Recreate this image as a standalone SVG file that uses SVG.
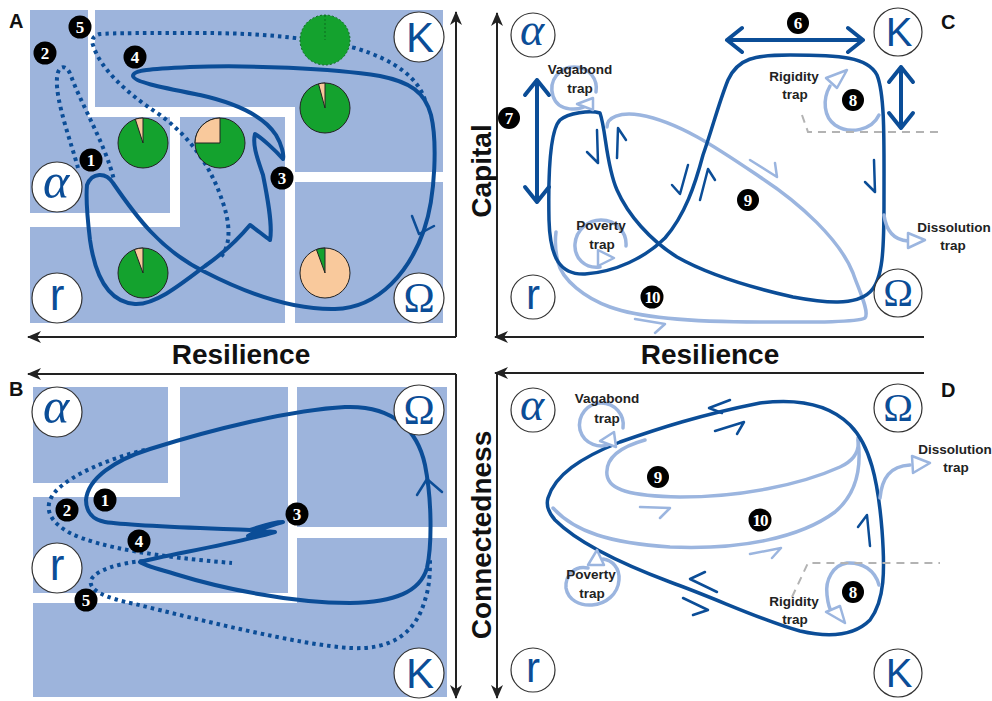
<svg xmlns="http://www.w3.org/2000/svg" width="992" height="701" viewBox="0 0 992 701">
<style>
.blk{fill:#9db4dc}
.dk{fill:none;stroke:#0b4d97;stroke-width:4;stroke-linecap:round;stroke-linejoin:round}
.dk2{fill:none;stroke:#0b4d97;stroke-width:3.5;stroke-linecap:round;stroke-linejoin:round}
.dot{fill:none;stroke:#0b4d97;stroke-width:4;stroke-dasharray:3.5 4}
.lt{fill:none;stroke:#9bb5df;stroke-width:3.5;stroke-linecap:round;stroke-linejoin:round}
.chv{fill:none;stroke:#0b4d97;stroke-width:2.5;stroke-linecap:round;stroke-linejoin:round}
.chl{fill:none;stroke:#9bb5df;stroke-width:2.5;stroke-linecap:round;stroke-linejoin:round}
.tri{fill:#fff;stroke:#9bb5df;stroke-width:2.5;stroke-linejoin:round}
.ax{fill:none;stroke:#222;stroke-width:2}
.dash{fill:none;stroke:#b3b3b3;stroke-width:2;stroke-dasharray:8 6}
.nd circle{fill:#fff;stroke:#333;stroke-width:1.2}
.gs{font-family:'Liberation Serif',serif;fill:#0b4d97;text-anchor:middle}
.ga{font-family:'Liberation Serif',serif;font-style:italic;fill:#0b4d97;text-anchor:middle}
.ss{font-family:'Liberation Sans',sans-serif;fill:#0b4d97;text-anchor:middle}
.bd circle{fill:#000}
.bd text{font-family:'Liberation Serif',serif;font-weight:bold;font-size:17px;fill:#fff;text-anchor:middle}
.trap{font-family:'Liberation Sans',sans-serif;font-weight:bold;font-size:13.5px;fill:#222;text-anchor:middle}
.axl{font-family:'Liberation Sans',sans-serif;font-weight:bold;font-size:28px;fill:#111;text-anchor:middle}
.pl{font-family:'Liberation Sans',sans-serif;font-weight:bold;font-size:20px;fill:#111}
.pie{stroke:#222;stroke-width:1}
</style>
<defs>
<marker id="ah" markerUnits="userSpaceOnUse" markerWidth="14" markerHeight="12" refX="13" refY="6" orient="auto">
<path d="M0,0 L14,6 L0,12 L4,6 Z" fill="#222"/>
</marker>
</defs>
<rect width="992" height="701" fill="#fff"/>

<g id="panelA-blocks">
<path class="blk" d="M30,10 H88 V117 H170 V213 H30 Z"/>
<path class="blk" d="M95,10 H443 V172 H295 V107 H95 Z"/>
<path class="blk" d="M180,117 H285 V323 H30 V227 H180 Z"/>
<path class="blk" d="M295,182 H443 V323 H295 Z"/>
</g>
<g id="panelB-blocks">
<path class="blk" d="M33,387 H168 V483 H33 Z"/>
<path class="blk" d="M180,387 H288 V593 H33 V497 H180 Z"/>
<path class="blk" d="M297,387 H447 V527 H297 Z"/>
<path class="blk" d="M297,538 H447 V697 H33 V603 H297 Z"/>
</g>

<g id="axes">
<path class="ax" d="M456,337 V12" marker-end="url(#ah)"/>
<path class="ax" d="M456,337 H28" marker-end="url(#ah)"/>
<path class="ax" d="M456,374 H28" marker-end="url(#ah)"/>
<path class="ax" d="M456,374 V698" marker-end="url(#ah)"/>
<path class="ax" d="M497,337 V13" marker-end="url(#ah)"/>
<path class="ax" d="M924,337 H495" marker-end="url(#ah)"/>
<path class="ax" d="M924,373 H495" marker-end="url(#ah)"/>
<path class="ax" d="M497,373 V698" marker-end="url(#ah)"/>
</g>

<text class="axl" x="241" y="364">Resilience</text>
<text class="axl" x="710" y="364">Resilience</text>
<text class="axl" transform="translate(491,171) rotate(-90)">Capital</text>
<text class="axl" transform="translate(491,535) rotate(-90)">Connectedness</text>
<text class="pl" x="9" y="28">A</text>
<text class="pl" x="9" y="396">B</text>
<text class="pl" x="941" y="29">C</text>
<text class="pl" x="941" y="397">D</text>

<g id="connectors">
<path class="dot" d="M78,168 C72,145 55,100 57,78 C58,64 67,64 71,76 C80,100 94,125 104,150 C109,162 112,172 114,180"/>
<path class="dot" d="M425,100 C418,78 395,60 355,48 C300,36 250,33 200,33 C150,33 110,33 100,34 C93,36 91,40 93,45 C100,68 125,92 160,115 C190,137 210,165 222,200 C230,222 232,245 220,258"/>
<path class="dk" d="M87,185 C92,172 106,172 113,183 C135,215 160,250 205,272 C240,290 290,310 335,309 C380,308 410,270 424,230 C436,195 437,140 431,115 C425,92 410,82 380,76 C330,68 250,65 190,67 C150,69 133,70 133,76 C134,82 160,87 200,95 C240,104 265,118 276,135 C282,145 284,155 283,159 C275,150 262,138 255,134 C252,145 258,160 263,175 C267,195 273,225 270,240 C264,236 256,229 250,225 C240,237 225,252 205,266 C180,285 155,305 135,304 C108,302 95,275 90,240 C87,215 86,195 87,185"/>
<polyline class="chv" points="412,216 419,234 434,226"/>
<path class="dot" d="M145,450 C110,458 70,475 55,492 C42,508 50,522 70,533 C100,548 160,557 232,563"/>
<path class="dot" d="M143,561 C120,563 95,570 91,580 C88,590 105,598 135,604 C200,620 300,645 350,648 C390,650 415,635 425,600 C430,585 430,570 430,558"/>
<path class="dk" d="M86,500 C88,478 115,460 150,449 C210,430 290,410 345,407 C395,405 418,432 425,465 C432,500 432,545 427,568 C420,592 395,602 350,603 C290,603 220,588 175,574 C155,568 143,565 140,562 C165,555 230,545 275,532 C265,530 255,534 248,536 C262,528 275,524 283,522 C270,522 258,528 250,530 C200,528 130,526 105,522 C93,520 86,512 86,500"/>
<polyline class="chv" points="417,495 427,479 442,492"/>
<path class="lt" d="M607,127 C607,117 620,112 640,115 C680,122 720,150 760,177 C800,203 840,240 853,273 C858,288 870,312 865,318 C855,323 800,322 760,322 C700,322 640,318 610,307 C585,298 562,280 558,262 C555,250 555,240 556,232"/>
<path class="dk2" d="M600,113 C606,130 606,165 617,190 C628,215 650,240 677,257 C700,270 740,285 793,297 C825,303 855,306 870,292 C883,280 884,250 884,200 C884,140 885,95 877,75 C868,57 840,55 790,55 C755,55 738,58 728,80 C718,105 712,130 703,155 C695,185 685,215 665,238 C645,258 615,272 585,274 C560,275 550,258 549,220 C548,170 550,130 560,120 C568,113 590,110 600,113 Z"/>
<polyline class="chv" points="587,152 598,163 597,130"/>
<polyline class="chv" points="617,158 618,128 626,140"/>
<polyline class="chv" points="672,185 680,194 688,165"/>
<polyline class="chv" points="700,200 708,169 715,180"/>
<polyline class="chv" points="865,182 875,192 874,160"/>
<polyline class="chl" points="750,160 777,177 775,163"/>
<polyline class="chl" points="635,319 665,324 655,333"/>
<path class="dk" d="M727,40 H863 M742,28 L727,40 L742,52 M848,28 L863,40 L848,52"/>
<path class="dk" d="M537,80 V202 M525,95 L537,80 L549,95 M525,187 L537,202 L549,187"/>
<path class="dk" d="M901,67 V128 M889,82 L901,67 L913,82 M889,113 L901,128 L913,113"/>
<path class="lt" d="M590,103 C580,112 558,112 553,96 C548,80 560,67 574,67 C590,67 598,80 596,92"/>
<path class="tri" d="M593,98 L593,110 L577,104 Z"/>
<path class="lt" d="M600,267 C585,269 574,258 575,244 C576,230 588,220 601,220 C616,220 627,232 626,246"/>
<path class="tri" d="M598,250 L598,266 L614,258 Z"/>
<path class="lt" d="M879,115 C872,130 850,135 835,125 C824,117 822,100 830,86"/>
<path class="tri" d="M826,78 L837,88 L847,70 Z"/>
<path class="lt" d="M884,215 C886,230 893,240 908,241"/>
<path class="tri" d="M908,233 L908,248 L925,240 Z"/>
<path class="dash" d="M802,115 L808,132 H942"/>
<path class="lt" d="M645,440 C620,447 605,458 607,475 C609,490 630,496 680,497 C740,497 800,485 840,467 C855,460 860,450 858,438"/>
<path class="lt" d="M553,508 C575,532 610,543 670,547 C740,550 800,538 835,512 C855,495 862,470 858,440"/>
<path class="dk2" d="M548,498 C555,475 580,458 620,442 C660,428 700,415 760,403 C800,398 830,405 850,425 C870,445 878,480 882,530 C885,570 885,600 870,620 C855,635 830,638 800,631 C760,620 720,600 670,582 C630,567 580,545 555,520 C548,512 546,505 548,498 Z"/>
<polyline class="chv" points="730,400 709,408 722,413"/>
<polyline class="chv" points="715,431 744,422 737,434"/>
<polyline class="chv" points="705,572 690,579 717,592"/>
<polyline class="chv" points="683,598 708,610 693,615"/>
<polyline class="chv" points="870,546 867,515 858,527"/>
<polyline class="chl" points="640,507 670,508 660,518"/>
<polyline class="chl" points="750,554 781,548 772,558"/>
<path class="lt" d="M612,443 C600,450 584,444 580,430 C577,415 588,403 601,403 C615,403 625,415 623,428"/>
<path class="tri" d="M614,432 L616,447 L600,441 Z"/>
<path class="lt" d="M588,568 C575,565 565,575 566,588 C568,600 580,606 592,605 C606,604 618,594 619,580 C620,568 612,560 603,559"/>
<path class="tri" d="M588,565 L604,565 L597,550 Z"/>
<path class="lt" d="M879,585 C875,570 862,562 847,563 C833,565 825,580 827,595 C828,604 830,610 832,612"/>
<path class="tri" d="M826,612 L840,606 L845,623 Z"/>
<path class="lt" d="M880,498 C882,478 890,466 910,465"/>
<path class="tri" d="M912,456 L913,473 L930,463 Z"/>
<path class="dash" d="M792,597 L808,563 H940"/>
</g>

<g id="pies">
<circle class="pie" cx="143" cy="143" r="25" fill="#14a22e"/>
<path class="pie" d="M143,143 L143,118 A25,25 0 0 0 135.3,119.2 Z" fill="#f9c99c"/>
<circle class="pie" cx="220" cy="143" r="25" fill="#14a22e"/>
<path class="pie" d="M220,143 L220,118 A25,25 0 0 0 195,143 Z" fill="#f9c99c"/>
<circle cx="325" cy="40" r="25" fill="#14a22e" stroke="#0c6b1e" stroke-width="1" stroke-dasharray="2 2"/>
<path d="M325,15 V40" stroke="#0c6b1e" stroke-width="1" stroke-dasharray="2 2"/>
<circle class="pie" cx="325" cy="108" r="25" fill="#14a22e"/>
<path class="pie" d="M325,108 L325,83 A25,25 0 0 0 318.5,83.9 Z" fill="#f9c99c"/>
<circle class="pie" cx="143" cy="273" r="25" fill="#14a22e"/>
<path class="pie" d="M143,273 L143,248 A25,25 0 0 0 134.4,249.5 Z" fill="#f9c99c"/>
<circle class="pie" cx="325" cy="273" r="25" fill="#f9c99c"/>
<path class="pie" d="M325,273 L325,248 A25,25 0 0 0 316.4,249.5 Z" fill="#14a22e"/>
</g>

<g id="A-alpha" class="nd"><circle cx="57" cy="187" r="25"/><text class="ga" x="56" y="198" font-size="50">α</text></g>
<g id="A-r" class="nd"><circle cx="57" cy="298" r="25"/><text class="ss" x="57" y="310" font-size="44">r</text></g>
<g id="A-K" class="nd"><circle cx="419" cy="37" r="25"/><text class="ss" x="420" y="52" font-size="42">K</text></g>
<g id="A-Omega" class="nd"><circle cx="419" cy="298" r="25"/><text class="gs" x="419" y="312" font-size="42">Ω</text></g>

<g id="B-alpha" class="nd"><circle cx="57" cy="412" r="25"/><text class="ga" x="56" y="423" font-size="50">α</text></g>
<g id="B-r" class="nd"><circle cx="57" cy="568" r="25"/><text class="ss" x="57" y="580" font-size="44">r</text></g>
<g id="B-K" class="nd"><circle cx="419" cy="673" r="25"/><text class="ss" x="420" y="688" font-size="42">K</text></g>
<g id="B-Omega" class="nd"><circle cx="419" cy="410" r="25"/><text class="gs" x="419" y="424" font-size="42">Ω</text></g>

<g id="C-alpha" class="nd"><circle cx="533" cy="35" r="22"/><text class="ga" x="532" y="45" font-size="46">α</text></g>
<g id="C-r" class="nd"><circle cx="533" cy="297" r="22"/><text class="ss" x="533" y="309" font-size="42">r</text></g>
<g id="C-K" class="nd"><circle cx="898" cy="32" r="24"/><text class="ss" x="899" y="46" font-size="40">K</text></g>
<g id="C-Omega" class="nd"><circle cx="898" cy="293" r="24"/><text class="gs" x="898" y="306" font-size="40">Ω</text></g>

<g id="D-alpha" class="nd"><circle cx="533" cy="410" r="22"/><text class="ga" x="532" y="420" font-size="46">α</text></g>
<g id="D-r" class="nd"><circle cx="533" cy="670" r="22"/><text class="ss" x="533" y="682" font-size="42">r</text></g>
<g id="D-Omega" class="nd"><circle cx="898" cy="408" r="24"/><text class="gs" x="898" y="421" font-size="40">Ω</text></g>
<g id="D-K" class="nd"><circle cx="898" cy="673" r="24"/><text class="ss" x="899" y="687" font-size="40">K</text></g>

<g id="C-traps">
<text class="trap" x="580" y="74">Vagabond</text><text class="trap" x="580" y="93">trap</text>
<text class="trap" x="601" y="230">Poverty</text><text class="trap" x="602" y="249">trap</text>
<text class="trap" x="794" y="81">Rigidity</text><text class="trap" x="795" y="99">trap</text>
<text class="trap" x="954" y="232">Dissolution</text><text class="trap" x="953" y="250">trap</text>
</g>
<g id="D-traps">
<text class="trap" x="607" y="403">Vagabond</text><text class="trap" x="607" y="423">trap</text>
<text class="trap" x="591" y="579">Poverty</text><text class="trap" x="592" y="598">trap</text>
<text class="trap" x="794" y="606">Rigidity</text><text class="trap" x="795" y="624">trap</text>
<text class="trap" x="955" y="454">Dissolution</text><text class="trap" x="956" y="472">trap</text>
</g>

<g id="A-b1" class="bd"><circle cx="91" cy="160" r="11.5"/><text x="91" y="166">1</text></g>
<g id="A-b2" class="bd"><circle cx="45" cy="53" r="11.5"/><text x="45" y="59">2</text></g>
<g id="A-b3" class="bd"><circle cx="282" cy="178" r="11.5"/><text x="282" y="184">3</text></g>
<g id="A-b4" class="bd"><circle cx="135" cy="57" r="11.5"/><text x="135" y="63">4</text></g>
<g id="A-b5" class="bd"><circle cx="80" cy="27" r="11.5"/><text x="80" y="33">5</text></g>

<g id="B-b1" class="bd"><circle cx="105" cy="500" r="11.5"/><text x="105" y="506">1</text></g>
<g id="B-b2" class="bd"><circle cx="67" cy="510" r="11.5"/><text x="67" y="516">2</text></g>
<g id="B-b3" class="bd"><circle cx="297" cy="514" r="11.5"/><text x="297" y="520">3</text></g>
<g id="B-b4" class="bd"><circle cx="139" cy="541" r="11.5"/><text x="139" y="547">4</text></g>
<g id="B-b5" class="bd"><circle cx="86" cy="600" r="11.5"/><text x="86" y="606">5</text></g>

<g id="C-b6" class="bd"><circle cx="798" cy="23" r="11"/><text x="798" y="29">6</text></g>
<g id="C-b7" class="bd"><circle cx="509" cy="118" r="11"/><text x="509" y="124">7</text></g>
<g id="C-b8" class="bd"><circle cx="853" cy="100" r="11"/><text x="853" y="106">8</text></g>
<g id="C-b9" class="bd"><circle cx="748" cy="200" r="11"/><text x="748" y="206">9</text></g>
<g id="C-b10" class="bd"><circle cx="652" cy="297" r="11.5"/><text x="652" y="302.5" font-size="14" letter-spacing="-1">10</text></g>

<g id="D-b9" class="bd"><circle cx="658" cy="477" r="11"/><text x="658" y="483">9</text></g>
<g id="D-b10" class="bd"><circle cx="760" cy="520" r="11.5"/><text x="760" y="525.5" font-size="14" letter-spacing="-1">10</text></g>
<g id="D-b8" class="bd"><circle cx="853" cy="592" r="11"/><text x="853" y="598">8</text></g>
</svg>
